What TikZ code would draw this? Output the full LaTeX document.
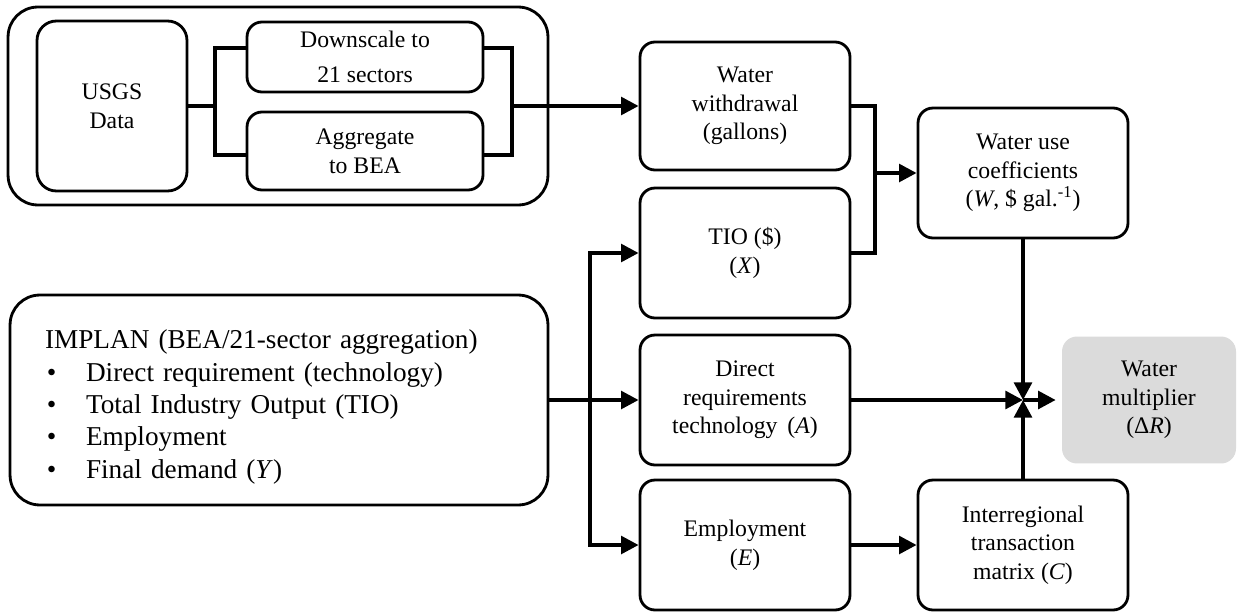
\documentclass[tikz,border=0pt]{standalone}
\usepackage{fontspec}
\setmainfont{Liberation Serif}
\usetikzlibrary{arrows.meta}

\begin{document}
\begin{tikzpicture}[x=0.02cm, y=-0.02cm,
  box/.style={draw, rounded corners=8.5pt, line width=1.6pt, align=center, inner sep=0pt, minimum width=4.2cm, minimum height=2.6cm, font=\fontsize{13.5}{16.3}\selectfont, execute at begin node={\rule{0pt}{14pt}}},
  wire/.style={line width=2.2pt},
  arr/.style={wire, -{Triangle[length=10pt, width=10pt]}}]
\useasboundingbox (0,0) rectangle (1239,612);
\node[box, rounded corners=17pt, minimum width=10.8cm, minimum height=3.96cm] at (278,106) (group) {};
\node[box, rounded corners=11pt, minimum width=3cm, minimum height=3.4cm] at (112,106) (usgs) {USGS\\Data};
\node[box, minimum width=4.72cm, minimum height=1.4cm] at (365,57) (down) {Downscale to\\[3.5pt]21 sectors};
\node[box, minimum width=4.72cm, minimum height=1.56cm] at (365,151) (aggr) {Aggregate\\to BEA};
\coordinate (lb) at (215,106);
\coordinate (rb) at (512,106);
\draw[wire] (usgs.east) -- (lb);
\draw[wire] ([yshift=5pt]down.west) -| (lb) |- ([yshift=-2.3pt]aggr.west);
\draw[wire] ([yshift=5pt]down.east) -| (rb) |- ([yshift=-2.3pt]aggr.east);
\node[box, minimum height=2.56cm] at (745,106) (ww) {Water\\withdrawal\\(gallons)};
\draw[arr] (rb) -- (ww.west);
\node[box] at (745,253) (tio) {TIO (\$)\\(\textit{X})};
\node[box] at (1023,173) (wuc) {Water use\\coefficients\\(\textit{W}, \$ gal.\textsuperscript{-1})};
\coordinate (join) at (875,173);
\draw[wire] (ww.east) -| (join);
\draw[wire] (tio.east) -| (join);
\draw[arr] (join) -- (wuc.west);
\node[box, rounded corners=17pt, align=left, minimum width=10.76cm, minimum height=4.2cm, inner xsep=0.7cm, text width=9.36cm, font=\fontsize{15.5}{18.4}\selectfont, execute at begin node={\rule{0pt}{18.7pt}}] at (279,400) (implan) {IMPLAN (BEA/21-sector aggregation)\\
\makebox[0.82cm][l]{\hspace{1pt}\textbullet}Direct requirement (technology)\\
\makebox[0.82cm][l]{\hspace{1pt}\textbullet}Total Industry Output (TIO)\\
\makebox[0.82cm][l]{\hspace{1pt}\textbullet}Employment\\
\makebox[0.82cm][l]{\hspace{1pt}\textbullet}Final demand (\textit{Y})};
\node[box] at (745,400) (direq) {Direct\\requirements\\technology\, (\textit{A})};
\node[box] at (745,545) (emp) {Employment\\(\textit{E})};
\node[box] at (1023,545) (itm) {Interregional\\transaction\\matrix (\textit{C})};
\node[box, draw=none, fill=black!14, minimum width=3.48cm, minimum height=2.54cm] at (1149,400) (mult) {Water\\multiplier\\(Δ\textit{R})};
\coordinate (split) at (590,400);
\coordinate (mix) at (1023,400);
\draw[arr] (implan.east) -- (direq.west);
\draw[arr] (split) |- (tio.west);
\draw[arr] (split) |- (emp.west);
\draw[arr] (emp) -- (itm);
\draw[arr] (direq.east) -- (mix);
\draw[arr] (wuc.south) -- (mix);
\draw[arr] (itm.north) -- (mix);
\draw[arr, shorten >=2.8pt] (mix) -- (mult.west);
\end{tikzpicture}
\end{document}
